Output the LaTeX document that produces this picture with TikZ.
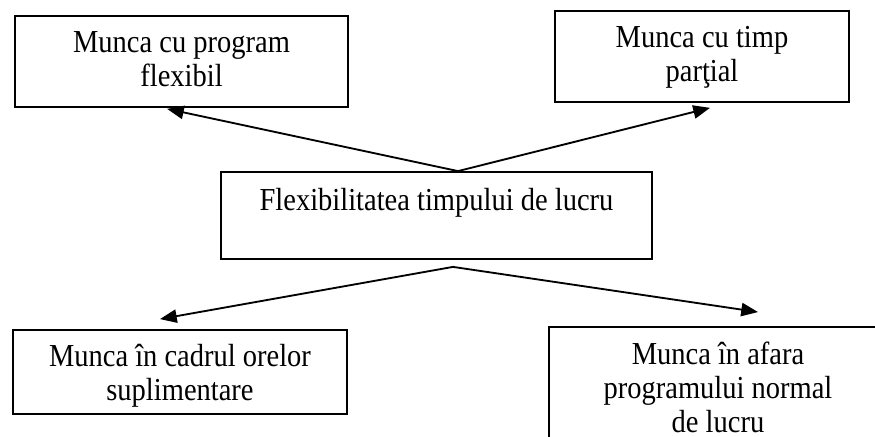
\documentclass[tikz,border=0pt]{standalone}
\usepackage{fontspec}
\setmainfont{Liberation Serif}[FakeStretch=0.89]
\usetikzlibrary{positioning,calc,arrows.meta}

\begin{document}
\begin{tikzpicture}[x=0.406pt,y=-0.406pt,
  box/.style = {draw, line width=0.75pt, rectangle, inner sep=0pt},
  txt/.style = {align=center, inner sep=0pt, font=\fontsize{13}{13.8}\selectfont},
  arr/.style = {line width=0.75pt, -{Triangle[length=6.8pt,width=5.4pt]}}]
        \useasboundingbox (0,0) rectangle (875,437);
        \clip (0,0) rectangle (875,437);
        % boxes
        \node[box, minimum width=135.2pt, minimum height=36.9pt] (1) at (181.5,61.5) {};
        \node[box, minimum width=119.4pt, minimum height=36.9pt] (2) at (702,56.5) {};
        \node[box, minimum width=175pt, minimum height=35.3pt] (c) at (436.5,215.5) {};
        \node[box, minimum width=135.6pt, minimum height=34.1pt] (4) at (180,372) {};
        \node[box, minimum width=137.2pt, minimum height=52pt] (5) at (718,391) {};
        % texts
        \node[txt, below=5.3pt of 1.north] (1t) {\strut Munca cu program\\\strut flexibil};
        \node[txt, below=5.3pt of 2.north] (2t) {\strut Munca cu timp\\\strut parţial};
        \node[txt, below=6.3pt of c.north] (ct) {\strut Flexibilitatea timpului de lucru};
        \node[txt, below=5.3pt of 4.north] (4t) {\strut Munca în cadrul orelor\\\strut suplimentare};
        \node[txt, below=5.7pt of 5.north] (5t) {\strut Munca în afara\\\strut programului normal\\\strut de lucru};
        % arrows
        \coordinate (up) at ($(c.north)+(21.5,0)$);
        \coordinate (down) at ($(c.south)+(16.5,7)$);
        \draw[arr] (up) -- ($(1.south)+(-14.5,1)$);
        \draw[arr] (up) -- ($(2.south)+(8,5)$);
        \draw[arr] (down) -- ($(4.north)+(-20,-10)$);
        \draw[arr] (down) -- ($(5.north)+(40,-14)$);
\end{tikzpicture}
\end{document}
